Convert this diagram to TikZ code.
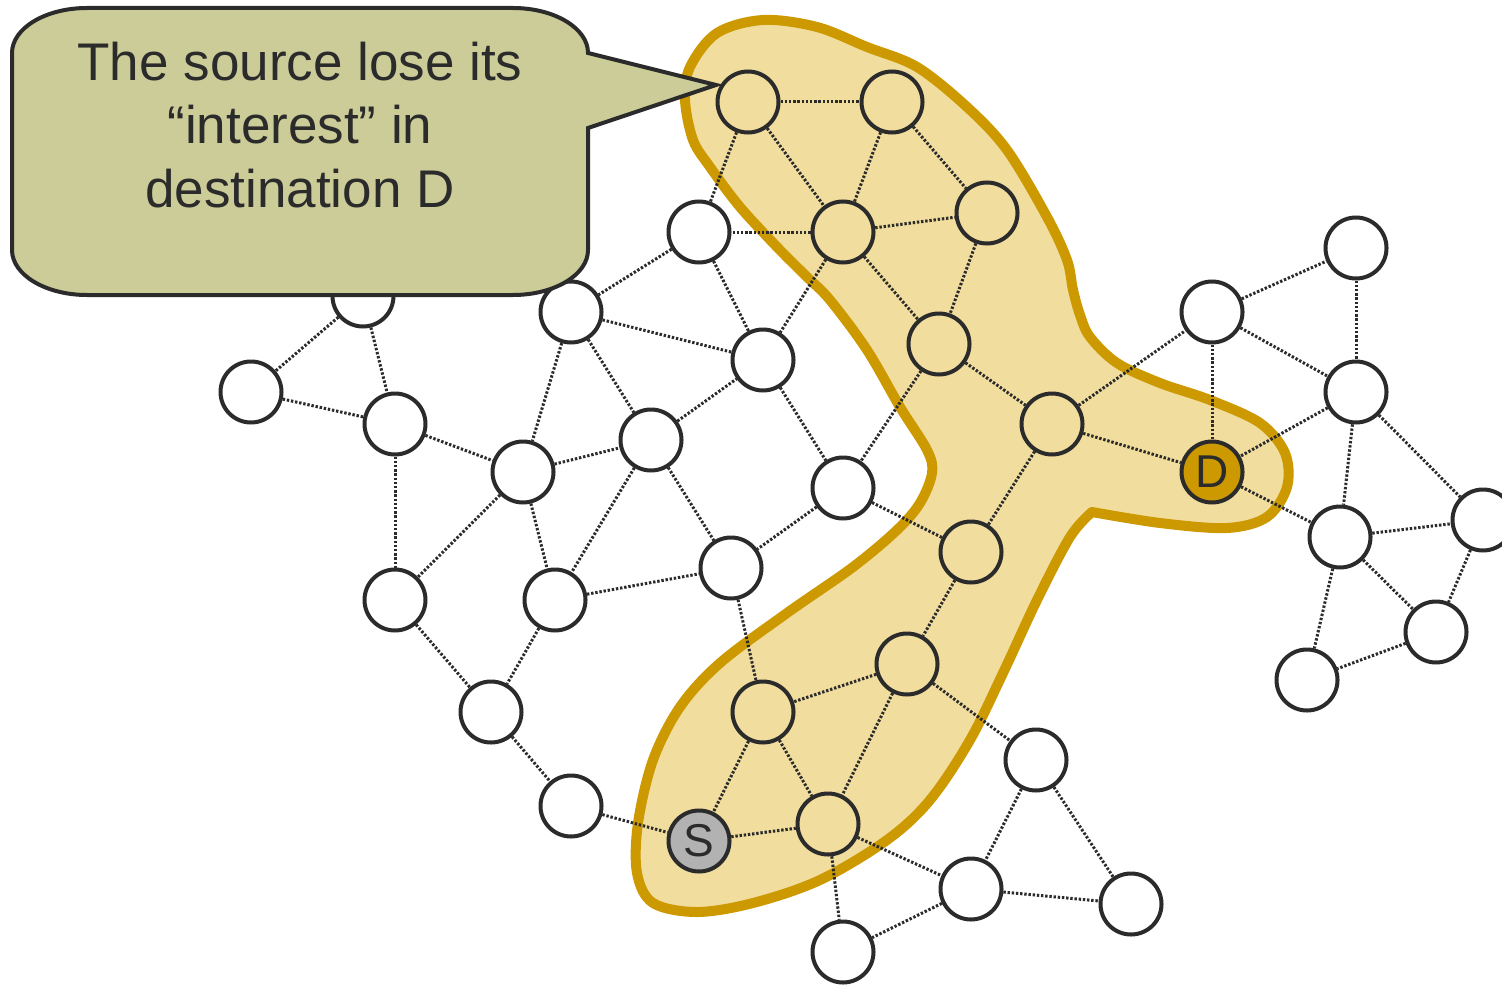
\documentclass[tikz,border=0pt]{standalone}
\usepackage{xcolor}
\usepackage{fontspec}
\setmainfont{Liberation Sans}
\definecolor{ink}{HTML}{2B2B2B}
\definecolor{gold}{HTML}{CC9900}
\definecolor{goldfill}{RGB}{241,221,158}
\definecolor{olive}{HTML}{CCCC99}
\definecolor{srcgray}{HTML}{B2B2B2}
\begin{document}
\begin{tikzpicture}[x=0.5pt,y=-0.5pt]
\tikzset{
  peer/.style={circle, draw=ink, line width=2pt, minimum size=30.5pt,
    inner sep=0pt, text=ink, font=\fontsize{23}{23}\selectfont},
  link/.style={draw=ink, line width=1.5pt, dash pattern=on 1.2pt off 0.9pt},
  zone/.style={draw=gold, line width=5pt, fill=goldfill, line join=round},
  bubble/.style={draw=ink, line width=2pt, fill=olive, line join=miter},
  bubbletext/.style={align=center, text=ink,
    font=\fontsize{26.5}{31.75}\selectfont}
}
\useasboundingbox (0,0) rectangle (1502,984);

% highlighted route region
\draw[zone] plot[smooth, tension=0.55] coordinates {
  (1092,512) (1070,537) (1037,600) (1003,673) (970,740) (930,800)
  (887,840) (820,880) (753,903) (697,912) (653,903) (637,873)
  (638,823) (653,760) (680,707) (720,663) (787,613) (853,567)
  (897,530) (920,503) (932,473) (927,450) (900,407) (867,350)
  (830,300) (807,277) (777,247) (740,207) (710,167) (693,140)
  (685,100) (690,67) (717,33) (763,20) (817,27) (867,47) (917,67)
  (967,107) (1007,150) (1047,217) (1067,260) (1073,290) (1080,315)
  (1090,337) (1117,363) (1160,383) (1210,400) (1260,423) (1285,453)
  (1287,487) (1267,517) (1227,528) (1160,523) (1092,512)} -- cycle;

% network nodes
\node[peer] (n1)  at (748,102) {};
\node[peer] (n2)  at (892,102) {};
\node[peer] (n3)  at (987,213) {};
\node[peer] (n4)  at (843,232) {};
\node[peer] (n5)  at (699,232) {};
\node[peer] (n6)  at (939,344) {};
\node[peer] (n7)  at (763,360) {};
\node[peer] (n8)  at (571,312) {};
\node[peer] (n9)  at (363,296) {};
\node[peer] (n10) at (251,392) {};
\node[peer] (n11) at (395,424) {};
\node[peer] (n12) at (523,472) {};
\node[peer] (n13) at (651,440) {};
\node[peer] (n14) at (843,488) {};
\node[peer] (n15) at (1052,424) {};
\node[peer, fill=gold] (dst) at (1212,472) {D};
\node[peer] (n17) at (1212,312) {};
\node[peer] (n18) at (1356,248) {};
\node[peer] (n19) at (1356,392) {};
\node[peer] (n20) at (1340,537) {};
\node[peer] (n21) at (1483,520) {};
\node[peer] (n22) at (1436,632) {};
\node[peer] (n23) at (1307,680) {};
\node[peer] (n24) at (971,552) {};
\node[peer] (n25) at (731,568) {};
\node[peer] (n26) at (555,600) {};
\node[peer] (n27) at (395,600) {};
\node[peer] (n28) at (491,712) {};
\node[peer] (n29) at (907,664) {};
\node[peer] (n30) at (763,712) {};
\node[peer] (n31) at (571,806) {};
\node[peer, fill=srcgray] (src) at (699,841) {S};
\node[peer] (n33) at (828,824) {};
\node[peer] (n34) at (1036,760) {};
\node[peer] (n35) at (971,889) {};
\node[peer] (n36) at (1131,904) {};
\node[peer] (n37) at (843,952) {};

% links
\foreach \a/\b in {n1/n2, n1/n4, n1/n5, n2/n4, n2/n3, n4/n3, n4/n5, n4/n7,
  n4/n6, n5/n7, n5/n8, n3/n6, n6/n15, n6/n14, n8/n7, n8/n12, n8/n13,
  n9/n10, n9/n11, n10/n11, n11/n12, n11/n27, n12/n13, n12/n26, n12/n27,
  n13/n7, n13/n25, n13/n26, n7/n14, n14/n25, n14/n24, n15/n17, n15/dst,
  n15/n24, n17/dst, n17/n18, n17/n19, n18/n19, n19/dst, n19/n20, n19/n21,
  dst/n20, n20/n21, n20/n22, n20/n23, n21/n22, n22/n23, n24/n29, n25/n30,
  n26/n25, n26/n28, n27/n28, n28/n31, n31/src, n29/n30, n29/n33, n29/n34,
  n30/src, n30/n33, src/n33, n33/n35, n33/n37, n34/n35, n34/n36, n35/n36,
  n35/n37}
  \draw[link] (\a) -- (\b);

% callout pointing at the first node
\coordinate (tip) at (716,85);
\draw[bubble] (87,8) -- (513,8) .. controls (554.4,8) and (588,28.2) .. (588,53)
  -- (tip) -- (588,128) -- (588,250)
  .. controls (588,274.8) and (554.4,295) .. (513,295) -- (87,295)
  .. controls (45.6,295) and (12,274.8) .. (12,250) -- (12,53)
  .. controls (12,28.2) and (45.6,8) .. (87,8) -- cycle;
\node[bubbletext] (msg) at (300,125)
  {The source lose its\\\textquotedblleft interest\textquotedblright\ in\\destination D};
\end{tikzpicture}
\end{document}
